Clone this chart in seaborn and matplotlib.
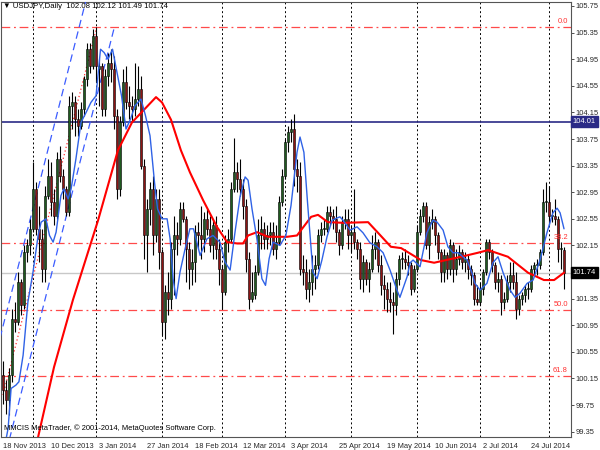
import matplotlib
matplotlib.use("Agg")
import matplotlib.pyplot as plt
import seaborn as sns
import pandas as pd

# daily USDJPY bars, 18 Nov 2013 .. 8 Aug 2014 (index = bar number)
opens = [100.20, 99.97, 99.82, 100.20, 101.05, 101.00, 101.60, 101.25, 102.05, 102.15,
         102.40, 103.00, 102.40, 102.25, 101.80, 102.90, 103.20, 102.80, 102.60, 103.45,
         103.20, 103.00, 102.65, 104.25, 104.30, 104.05, 103.95, 104.20, 104.65, 105.10,
         104.85, 105.30, 104.80, 104.85, 104.20, 104.70, 104.90, 104.80, 104.10, 103.00,
         104.00, 104.60, 104.30, 104.25, 104.20, 104.35, 104.50, 103.35, 102.30, 102.70,
         103.00, 102.30, 102.85, 102.05, 101.00, 101.45, 101.35, 102.10, 102.30, 102.25,
         102.70, 102.55, 102.10, 101.80, 101.90, 102.35, 102.30, 102.25, 102.55, 102.40,
         102.15, 102.45, 102.10, 101.80, 101.45, 102.20, 102.25, 103.00, 103.25, 103.15,
         103.00, 102.75, 101.95, 101.35, 101.40, 101.75, 102.30, 102.40, 102.25, 102.30,
         102.35, 102.10, 102.20, 102.80, 103.20, 103.70, 103.85, 103.90, 103.30, 103.20,
         101.80, 101.75, 101.50, 101.60, 101.80, 101.85, 102.30, 102.40, 102.40, 102.65,
         102.60, 102.55, 102.35, 102.15, 102.50, 102.55, 102.30, 102.35, 102.20, 102.10,
         101.65, 101.90, 101.65, 101.80, 102.10, 102.20, 101.85, 101.55, 101.50, 101.35,
         101.30, 101.25, 101.65, 101.95, 101.95, 101.90, 101.85, 101.50, 101.80, 102.35,
         102.60, 102.75, 102.15, 102.50, 102.55, 102.30, 102.05, 101.75, 102.00, 101.80,
         102.15, 101.80, 101.95, 102.05, 101.90, 101.95, 101.80, 101.70, 101.35, 101.30,
         101.50, 101.75, 102.20, 102.05, 101.85, 101.60, 101.65, 101.30, 101.35, 101.60,
         101.70, 101.60, 101.20, 101.35, 101.40, 101.50, 101.50, 101.80, 101.85, 101.85,
         102.05, 102.80, 102.80, 102.60, 102.60, 102.55, 102.10, 102.08]
highs = [100.41, 100.12, 100.30, 101.20, 101.30, 101.75, 101.65, 102.15, 102.25, 102.55,
         103.40, 103.10, 102.75, 102.40, 103.05, 103.45, 103.40, 103.00, 103.55, 103.65,
         103.30, 103.05, 104.40, 104.45, 104.40, 104.20, 104.30, 104.70, 105.20, 105.20,
         105.40, 105.44, 104.95, 104.90, 104.80, 105.05, 105.10, 105.00, 104.20, 104.10,
         104.80, 104.85, 104.55, 104.40, 104.90, 104.85, 104.70, 103.45, 102.85, 103.10,
         103.20, 103.00, 103.00, 102.10, 101.55, 101.75, 102.20, 102.60, 102.50, 102.80,
         102.80, 102.60, 102.20, 102.10, 102.45, 102.50, 102.75, 102.65, 102.70, 102.60,
         102.55, 102.60, 102.25, 101.85, 102.30, 102.40, 103.10, 103.76, 103.40, 103.45,
         103.15, 102.85, 102.05, 101.75, 101.85, 102.55, 102.60, 102.50, 102.45, 102.50,
         102.50, 102.45, 102.90, 103.30, 103.75, 103.95, 104.05, 104.13, 103.45, 103.40,
         102.00, 101.95, 101.80, 102.00, 102.00, 102.40, 102.50, 102.55, 102.75, 102.75,
         102.70, 102.75, 102.40, 102.60, 102.70, 102.70, 102.45, 103.00, 102.25, 102.20,
         102.00, 101.95, 101.90, 102.30, 102.35, 102.25, 102.00, 101.70, 101.60, 101.60,
         101.45, 101.75, 102.00, 102.05, 102.10, 102.00, 101.90, 101.85, 102.45, 102.70,
         102.80, 102.80, 102.60, 102.70, 102.60, 102.35, 102.10, 102.10, 102.05, 102.25,
         102.20, 102.10, 102.15, 102.10, 102.05, 102.00, 101.85, 101.75, 101.55, 101.60,
         101.80, 102.25, 102.25, 102.10, 101.90, 101.75, 101.70, 101.45, 101.70, 101.90,
         101.90, 101.75, 101.40, 101.45, 101.55, 101.60, 101.85, 101.90, 101.95, 102.10,
         103.00, 103.10, 103.05, 102.70, 102.85, 102.60, 102.20, 102.12]
lows = [99.77, 99.62, 99.60, 100.10, 100.85, 100.95, 101.10, 101.20, 101.90, 102.00,
        102.35, 102.30, 101.90, 101.60, 101.60, 102.85, 102.60, 102.45, 102.55, 103.10,
        102.85, 102.60, 102.60, 103.90, 103.80, 103.80, 103.90, 104.10, 104.55, 104.75,
        104.80, 104.60, 104.25, 104.10, 104.10, 104.55, 104.60, 103.90, 102.85, 102.90,
        103.95, 104.20, 104.05, 104.00, 104.10, 104.25, 103.30, 101.95, 101.75, 102.45,
        102.00, 102.20, 101.80, 100.80, 100.75, 101.10, 101.20, 101.40, 102.00, 102.15,
        102.50, 101.60, 101.50, 101.55, 101.60, 102.10, 101.95, 102.05, 102.30, 102.05,
        101.95, 101.95, 101.55, 101.20, 101.40, 102.05, 102.20, 102.95, 102.95, 102.90,
        102.55, 101.75, 101.20, 101.30, 101.35, 101.70, 102.10, 102.10, 102.10, 102.15,
        102.00, 101.95, 102.15, 102.75, 103.15, 103.55, 103.70, 103.05, 102.95, 101.70,
        101.55, 101.35, 101.30, 101.40, 101.50, 101.80, 102.20, 102.30, 102.35, 102.45,
        102.40, 102.20, 102.00, 102.10, 102.40, 102.10, 102.05, 102.10, 101.95, 101.50,
        101.45, 101.55, 101.45, 101.75, 101.95, 101.75, 101.40, 101.20, 101.15, 101.15,
        100.82, 101.10, 101.55, 101.80, 101.80, 101.70, 101.40, 101.45, 101.75, 102.30,
        102.50, 102.10, 101.95, 102.40, 102.15, 101.95, 101.60, 101.60, 101.65, 101.70,
        101.60, 101.70, 101.85, 101.80, 101.75, 101.65, 101.55, 101.25, 101.25, 101.25,
        101.40, 101.70, 101.95, 101.75, 101.50, 101.45, 101.10, 101.20, 101.30, 101.45,
        101.50, 101.05, 101.10, 101.25, 101.30, 101.35, 101.45, 101.70, 101.70, 101.80,
        102.00, 102.65, 102.45, 102.50, 102.45, 101.90, 101.80, 101.49]
closes = [99.97, 99.82, 100.20, 101.05, 101.00, 101.60, 101.25, 102.05, 102.15, 102.40,
          103.00, 102.40, 102.25, 101.80, 102.90, 103.20, 102.80, 102.60, 103.45, 103.20,
          103.00, 102.65, 104.25, 104.30, 104.05, 103.95, 104.20, 104.65, 105.10, 104.85,
          105.30, 104.85, 104.85, 104.20, 104.70, 104.90, 104.80, 104.10, 103.00, 104.00,
          104.60, 104.30, 104.25, 104.20, 104.35, 104.50, 103.35, 102.30, 102.70, 103.00,
          102.30, 102.85, 102.05, 101.00, 101.45, 101.35, 102.10, 102.30, 102.25, 102.70,
          102.55, 102.10, 101.80, 101.90, 102.35, 102.30, 102.25, 102.55, 102.40, 102.15,
          102.45, 102.10, 101.80, 101.45, 102.20, 102.25, 103.00, 103.25, 103.15, 103.00,
          102.75, 101.95, 101.35, 101.45, 101.75, 102.30, 102.40, 102.25, 102.30, 102.35,
          102.10, 102.20, 102.80, 103.20, 103.70, 103.85, 103.90, 103.30, 103.20, 101.80,
          101.75, 101.50, 101.60, 101.80, 101.85, 102.30, 102.40, 102.40, 102.65, 102.60,
          102.55, 102.35, 102.15, 102.50, 102.55, 102.30, 102.35, 102.20, 102.10, 101.65,
          101.90, 101.65, 101.80, 102.10, 102.20, 101.85, 101.55, 101.50, 101.35, 101.30,
          101.25, 101.65, 101.95, 101.95, 101.90, 101.85, 101.50, 101.80, 102.35, 102.60,
          102.75, 102.15, 102.50, 102.55, 102.30, 102.05, 101.75, 102.00, 101.80, 102.15,
          101.80, 101.95, 102.05, 101.90, 101.95, 101.80, 101.70, 101.35, 101.30, 101.50,
          101.75, 102.20, 102.05, 101.85, 101.60, 101.65, 101.30, 101.35, 101.60, 101.70,
          101.60, 101.20, 101.35, 101.40, 101.50, 101.50, 101.80, 101.85, 101.85, 102.05,
          102.80, 102.80, 102.60, 102.60, 102.55, 102.10, 102.10, 101.74]

# fast (blue) and slow (red) moving averages: bar, price
blue_bars = [0, 1.7, 2.7, 4.3, 5.3, 6.7, 8.3, 10, 11.7, 12.7, 14.3, 15.5, 16.7, 17.7, 19.3,
             20.3, 21.7, 22.7, 24.3, 26, 27.7, 29.3, 31, 32.5, 33.7, 35, 36.5, 38, 39.5, 41,
             42.5, 44, 46, 47.5, 49, 50.5, 51.5, 53, 54.7, 55.7, 56.7, 57.7, 59, 60.7, 62.3,
             63.5, 65.7, 68, 70, 72.3, 74, 75.7, 77.3, 79, 80.7, 81.7, 83, 84.7, 86.3, 87.5,
             88.7, 90, 92.3, 94.3, 96, 98, 99, 100.3, 101.5, 103.3, 104.7, 106.3, 108, 109.7,
             112.3, 113.3, 115.7, 118, 120, 122.3, 124.7, 126.7, 129, 131.3, 132.3, 134.7,
             135.7, 136.7, 139, 141.3, 143.3, 144.7, 146.7, 148.3, 150, 151.7, 153.3, 154.7,
             156.3, 157.3, 159, 161.3, 163.3, 165, 166.7, 169, 170.7, 172.3, 174.7, 176.7,
             179, 181.3, 183.3, 184.7, 185.7, 187]
blue_vals = [99.0, 99.4, 100.0, 100.05, 100.1, 100.5, 101.3, 101.75, 102.3, 102.5, 102.55,
             102.3, 102.2, 102.35, 102.9, 103.0, 102.85, 103.0, 103.45, 104.0, 104.15, 104.3,
             104.4, 105.1, 105.05, 104.95, 105.1, 104.75, 104.4, 103.9, 104.05, 104.25, 104.35,
             104.1, 103.8, 103.1, 102.7, 102.55, 102.55, 102.25, 101.65, 101.35, 101.75, 102.1,
             102.4, 102.4, 102.0, 102.25, 102.3, 102.2, 101.9, 101.78, 102.34, 102.88, 103.18,
             103.13, 102.7, 102.23, 101.65, 101.55, 101.95, 102.2, 102.15, 102.3, 102.75,
             103.55, 103.78, 103.55, 102.8, 101.75, 101.65, 101.93, 102.28, 102.53, 102.58,
             102.53, 102.38, 102.43, 102.34, 102.19, 102.13, 102.04, 101.78, 101.48, 101.37,
             101.68, 101.89, 101.93, 101.83, 102.34, 102.53, 102.5, 102.38, 102.13, 102.04,
             102.04, 101.98, 101.93, 101.74, 101.58, 101.48, 101.58, 101.89, 101.98, 101.74,
             101.48, 101.37, 101.43, 101.58, 101.63, 101.93, 102.34, 102.64, 102.71, 102.64,
             102.4]
red_bars = [10, 11.7, 17, 23.3, 31.7, 38.3, 43, 47, 51, 53, 56, 59.3, 62.3, 66.7, 71.3,
            74.7, 78, 80, 81.7, 84.7, 88.3, 94.7, 98, 102.7, 105, 108.3, 113.7, 121.7, 125,
            129.3, 132.7, 139.3, 143.7, 152.7, 158.3, 161.7, 168.3, 175, 180.3, 183.7, 187]
red_vals = [99.0, 99.27, 100.32, 101.33, 102.53, 103.58, 104.0, 104.19, 104.38, 104.3, 104.04,
            103.58, 103.25, 102.83, 102.43, 102.2, 102.18, 102.18, 102.3, 102.35, 102.28,
            102.28, 102.3, 102.58, 102.61, 102.5, 102.49, 102.5, 102.34, 102.13, 102.11,
            101.93, 101.89, 101.98, 102.04, 102.08, 101.98, 101.74, 101.63, 101.63, 101.74]

# regression channel (bar, price) and its width
chan_bars = [-1, 37]
chan_mid = [99.72, 106.45]
chan_width = 1.04
mid_bars = [0, 31]
mid_vals = [99.90, 105.39]

fib_high = 105.44
fib_low = 96.93
fib_levels = [0.0, 38.2, 50.0, 61.8]
hline_price = 104.01
bid_price = 101.74

month_starts = [10, 31, 53, 73, 94, 116, 138, 159, 182]
date_bars = [0, 16, 32, 48, 64, 80, 96, 112, 128, 144, 160, 176]
date_labels = ["18 Nov 2013", "10 Dec 2013", "3 Jan 2014", "27 Jan 2014", "18 Feb 2014",
               "12 Mar 2014", "3 Apr 2014", "25 Apr 2014", "19 May 2014", "10 Jun 2014",
               "2 Jul 2014", "24 Jul 2014"]
price_ticks = [105.75, 105.35, 104.95, 104.55, 104.15, 103.75, 103.35, 102.95, 102.55,
               102.15, 101.75, 101.35, 100.95, 100.55, 100.15, 99.75, 99.35]

sns.set_style("white")
plt.rcParams['font.family'] = ['Liberation Sans', 'DejaVu Sans']
fs = 5.4

df = pd.DataFrame({"o": opens, "h": highs, "l": lows, "c": closes})
df["bar"] = range(len(df))
up = df["c"] >= df["o"]

fig = plt.figure(figsize=(6, 4.5), dpi=100)
ax = fig.add_axes([1 / 600, 13 / 450, 570 / 600, 435 / 450])
ax.set_xlim(-0.67, 189.33)
ax.set_ylim(99.27, 105.81)

# month separators
for b in month_starts:
    ax.axvline(b, color="black", lw=0.7, ls=(0, (2, 2.5)), zorder=1)

# fibonacci levels
span = fib_high - fib_low
for lev in fib_levels:
    p = fib_high - span * lev / 100
    ax.axhline(p, color="#ff4a4a", lw=0.9, ls=(0, (7, 3, 1.5, 3)), zorder=1)
    ax.text(188.3, p + 0.03, f"{lev:.1f}", color="#ff3030", fontsize=fs,
            ha="right", va="bottom", zorder=6)

ax.axhline(hline_price, color="#2b2b86", lw=1.2, zorder=2)
ax.axhline(bid_price, color="#c8c8c8", lw=1.0, zorder=1)

# channel
for off in (chan_width, -chan_width):
    ax.plot(chan_bars, [m + off for m in chan_mid], color="#3b5cff", lw=0.9,
            ls=(0, (6, 3.5)), zorder=3)
ax.plot(mid_bars, mid_vals, color="#ff3030", lw=0.9, ls=(0, (1, 2)), zorder=3)

# candles
ax.vlines(df["bar"], df["l"], df["h"], color="black", lw=0.8, zorder=4)
body_lo = df[["o", "c"]].min(axis=1)
body_h = (df["c"] - df["o"]).abs().clip(lower=0.015)
ax.bar(df["bar"], body_h, bottom=body_lo, width=0.85,
       color=["#1f5a1f" if u else "#8c1414" for u in up],
       edgecolor="black", linewidth=0.4, zorder=5)

# moving averages
sns.lineplot(x=red_bars, y=red_vals, ax=ax, color="#ff0000", lw=1.5, sort=False,
             estimator=None, zorder=6)
sns.lineplot(x=blue_bars, y=blue_vals, ax=ax, color="#2f62e6", lw=1.0, sort=False,
             estimator=None, zorder=7)

# axes styling
for s in ax.spines.values():
    s.set_color("#555555")
    s.set_linewidth(0.8)
ax.yaxis.tick_right()
ax.set_yticks(price_ticks)
# the 101.75 label sits under the bid-price box
ax.set_yticklabels(["" if t == 101.75 else f"{t:.2f}" for t in price_ticks])
ax.set_xticks(date_bars)
ax.set_xticklabels(date_labels, ha="left")
ax.tick_params(axis="both", labelsize=fs, length=2.5, width=0.6, color="#333333",
               direction="out", pad=1)
ax.tick_params(axis="x", pad=1.5)
ax.set_xlabel("")
ax.set_ylabel("")

# price boxes on the scale
for price, bg in ((hline_price, "#2b2b86"), (bid_price, "black")):
    ax.text(1.003, price, f"{price:.2f}", transform=ax.get_yaxis_transform(),
            fontsize=fs, color="white", va="center", ha="left", zorder=10,
            bbox=dict(boxstyle="square,pad=0.25", fc=bg, ec=bg), clip_on=False)

ax.text(0.004, 0.997, "▼ USDJPY,Daily  102.08 102.12 101.49 101.74", transform=ax.transAxes,
        fontsize=5.6, va="top", ha="left", color="black", zorder=10)
ax.text(0.006, 0.012, "MMCIS MetaTrader, © 2001-2014, MetaQuotes Software Corp.",
        transform=ax.transAxes, fontsize=fs, va="bottom", ha="left", color="black", zorder=10)

fig.savefig("out.png", dpi=100)
